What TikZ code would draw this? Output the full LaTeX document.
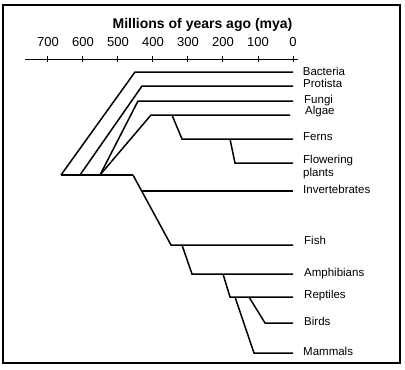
\documentclass[tikz,border=0pt]{standalone}
\usepackage{fontspec}
\setmainfont{Liberation Sans}
\begin{document}
\begin{tikzpicture}[x=1pt,y=-1pt,
  br/.style={line width=1.5pt},
  lbl/.style={anchor=base west,inner sep=0pt,font=\fontsize{11.5}{14}\selectfont},
  num/.style={anchor=base,inner sep=0pt,font=\fontsize{13}{15}\selectfont},
  ttl/.style={anchor=base,inner sep=0pt,font=\fontsize{14}{16}\selectfont\bfseries}]
\useasboundingbox (0,0) rectangle (405,370);
\draw[line width=2pt] (3,5) rectangle (400,363);
% axis
\node[ttl] (title) at (202.5,28.8) {Millions of years ago (mya)};
\coordinate (axL) at (25,59.5);
\coordinate (axR) at (298,59.5);
\draw[line width=1.5pt] (axL) -- (axR);
\foreach \v/\i in {700/0,600/1,500/2,400/3,300/4,200/5,100/6,0/7}{
  \coordinate (t\i) at ({293-0.35*\v},59.5);
  \draw[line width=1pt] ([yshift=3.5pt]t\i) -- ([yshift=-2pt]t\i);
  \node[num] (n\i) at ([yshift=12.8pt]t\i) {\v};
}
% root
\coordinate (r0) at (61,175);
\coordinate (r1) at (80,175);
\coordinate (r2) at (100,175);
\coordinate (r3) at (133,175);
\draw[br] (r0) -- (r3);
% bacteria, protista, fungi, algae
\coordinate (bA) at (135,72);  \coordinate (bB) at (293,72);
\coordinate (pA) at (142,86);  \coordinate (pB) at (293,86);
\coordinate (fA) at (138,101); \coordinate (fB) at (293,101);
\coordinate (aA) at (151,115); \coordinate (aB) at (290,115);
\draw[br] (r0) -- (bA) -- (bB);
\draw[br] (r1) -- (pA) -- (pB);
\draw[br] (r2) -- (fA) -- (fB);
\draw[br] (r2) -- (aA) -- (aB);
% plants
\coordinate (aS) at (172,115);
\coordinate (feA) at (182,139); \coordinate (feB) at (293,139);
\coordinate (feS) at (230,139);
\coordinate (flA) at (235,163); \coordinate (flB) at (293,163);
\draw[br] (aS) -- (feA) -- (feB);
\draw[br] (feS) -- (flA) -- (flB);
% animals
\coordinate (inA) at (142,191); \coordinate (inB) at (293,191);
\coordinate (fiA) at (171,245); \coordinate (fiB) at (293,245);
\draw[br] (r3) -- (fiA) -- (fiB);
\draw[br] (inA) -- (inB);
\coordinate (fiS) at (182,245);
\coordinate (amA) at (192,274); \coordinate (amB) at (293,274);
\draw[br] (fiS) -- (amA) -- (amB);
\coordinate (amS) at (223,274);
\coordinate (reA) at (230,297); \coordinate (reB) at (293,297);
\draw[br] (amS) -- (reA) -- (reB);
\coordinate (reS1) at (235,297);
\coordinate (maA) at (254,353); \coordinate (maB) at (293,353);
\draw[br] (reS1) -- (maA) -- (maB);
\coordinate (reS2) at (249,297);
\coordinate (biA) at (265,323); \coordinate (biB) at (293,323);
\draw[br] (reS2) -- (biA) -- (biB);
% labels
\node[lbl] (Lb) at (302.7,75) {Bacteria};
\node[lbl] (Lp) at (303,87.7) {Protista};
\node[lbl] (Lf) at (304,103.3) {Fungi};
\node[lbl] (La) at (305,114.3) {Algae};
\node[lbl] (Lfe) at (303,140.7) {Ferns};
\node[lbl] (Lfl) at (303,163.3) {Flowering};
\node[lbl] (Lfl2) at (303,176.7) {plants};
\node[lbl] (Li) at (303,193.3) {Invertebrates};
\node[lbl] (Lfi) at (304,244.3) {Fish};
\node[lbl] (Lam) at (304,276.7) {Amphibians};
\node[lbl] (Lre) at (304,298.3) {Reptiles};
\node[lbl] (Lbi) at (304,325.7) {Birds};
\node[lbl] (Lma) at (303,355) {Mammals};
\end{tikzpicture}
\end{document}
